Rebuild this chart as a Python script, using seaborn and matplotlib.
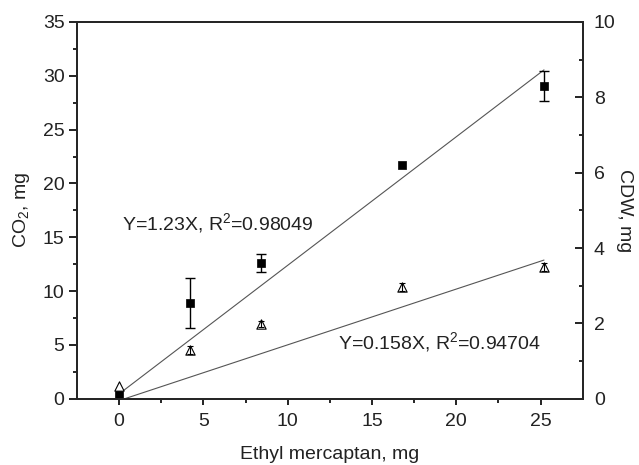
import matplotlib
matplotlib.use("Agg")
import matplotlib.pyplot as plt
import numpy as np
import pandas as pd
import seaborn as sns

# data
mercaptan = [0.0, 4.2, 8.4, 16.8, 25.2]
co2 = [0.44, 8.9, 12.6, 21.7, 29.05]
co2_err = [0.0, 2.35, 0.8, 0.0, 1.4]
cdw = [0.34, 1.29, 1.97, 2.97, 3.5]
cdw_err = [0.0, 0.1, 0.08, 0.1, 0.1]

fit_x = [0.0, 25.2]
co2_fit = [0.45, 30.55]
cdw_fit = [-0.05, 3.68]

co2_label = "Y=1.23X, R$^2$=0.98049"
cdw_label = "Y=0.158X, R$^2$=0.94704"

FS = 14

sns.set_style("ticks")
plt.rcParams["font.family"] = ["Liberation Sans", "DejaVu Sans"]
plt.rcParams["mathtext.fontset"] = "custom"
plt.rcParams["mathtext.rm"] = "Liberation Sans"
plt.rcParams["mathtext.it"] = "Liberation Sans:italic"
plt.rcParams["axes.linewidth"] = 1.4
plt.rcParams["text.color"] = "#222222"
plt.rcParams["axes.labelcolor"] = "#222222"


def no_zero(err):
    # zero error -> no bar and no caps
    err = np.asarray(err, dtype=float)
    return np.where(err > 0, err, np.nan)


fig = plt.figure(figsize=(6.39, 4.65), dpi=100)
ax = fig.add_axes([0.1205, 0.1426, 0.7915, 0.8101])
ax2 = ax.twinx()

df_co2 = pd.DataFrame({"x": mercaptan, "y": co2})
df_cdw = pd.DataFrame({"x": mercaptan, "y": cdw})

# fitted lines
sns.lineplot(x=fit_x, y=co2_fit, ax=ax, color="#555555", lw=0.8, zorder=2)
sns.lineplot(x=fit_x, y=cdw_fit, ax=ax2, color="#555555", lw=0.8, zorder=2)

# CO2 points
ax.errorbar(mercaptan, co2, yerr=no_zero(co2_err), fmt="none", ecolor="black",
            elinewidth=1, capsize=3.5, capthick=1, zorder=3)
sns.scatterplot(data=df_co2, x="x", y="y", ax=ax, marker="s", s=30,
                color="black", edgecolor="black", linewidth=0.5, zorder=4)

# CDW points
sns.scatterplot(data=df_cdw, x="x", y="y", ax=ax2, marker="^", s=45,
                facecolor="white", edgecolor="black", linewidth=0.8, zorder=3)
ax2.errorbar(mercaptan, cdw, yerr=no_zero(cdw_err), fmt="none", ecolor="black",
             elinewidth=0.8, capsize=2.5, capthick=0.8, zorder=4)

ax.set_xlim(-2.5, 27.5)
ax.set_ylim(0, 35)
ax2.set_ylim(0, 10)

ax.set_xticks([0, 5, 10, 15, 20, 25])
ax.set_xticks([2.5, 7.5, 12.5, 17.5, 22.5], minor=True)
ax.set_yticks(np.arange(0, 36, 5))
ax.set_yticks(np.arange(2.5, 35, 5), minor=True)
ax2.set_yticks([0, 2, 4, 6, 8, 10])
ax2.set_yticks([1, 3, 5, 7, 9], minor=True)

ax.tick_params(axis="y", which="major", direction="out", length=6,
               width=1.4, labelsize=FS, colors="#222222", pad=3)
ax.tick_params(axis="y", which="minor", direction="out", length=3, width=1.4)
ax.tick_params(axis="x", which="major", direction="out", length=4,
               width=1.4, labelsize=FS, colors="#222222", pad=6)
ax.tick_params(axis="x", which="minor", direction="out", length=3, width=1.4)
ax.tick_params(axis="x", top=False)
ax2.tick_params(axis="y", which="major", direction="in", length=6,
                width=1.4, labelsize=FS, colors="#222222", pad=8)
ax2.tick_params(axis="y", which="minor", direction="in", length=3, width=1.4)

ax.set_xlabel("Ethyl mercaptan, mg", fontsize=FS, labelpad=12)
ax.set_ylabel("CO$_2$, mg", fontsize=FS, labelpad=8)
ax2.set_ylabel("CDW, mg", fontsize=FS, rotation=270, labelpad=0,
               va="bottom")

for spine in ax2.spines.values():
    spine.set_linewidth(1.4)

ax.text(0.15, 16.35, co2_label, fontsize=FS, va="center", ha="left")
ax.text(13.0, 5.25, cdw_label, fontsize=FS, va="center", ha="left")

fig.savefig("out.png", dpi=100)
